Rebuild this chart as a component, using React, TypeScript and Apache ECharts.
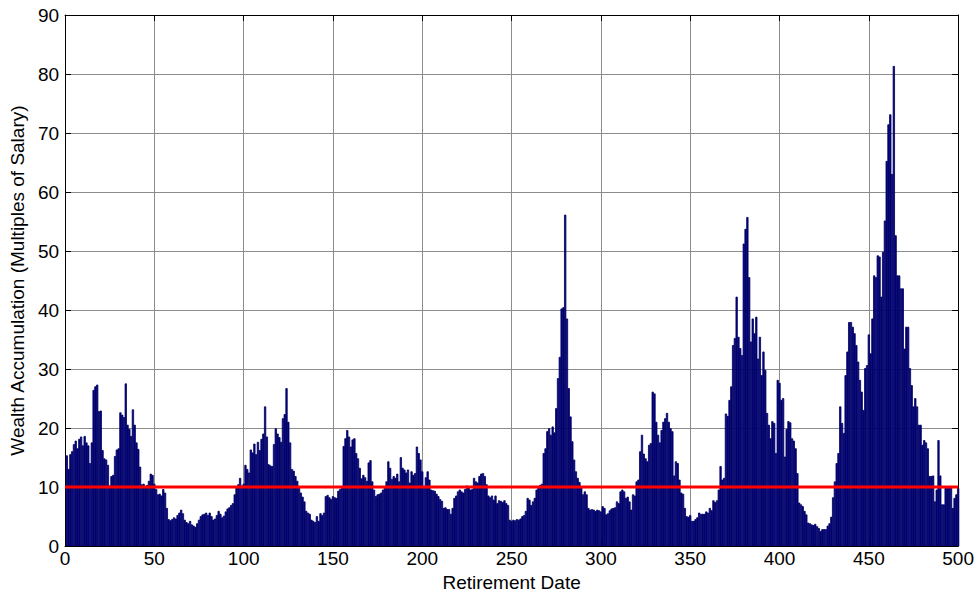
import React, { useEffect, useRef } from "react";
import * as echarts from "echarts";

// Wealth accumulation (multiples of salary) per retirement date, 500 dates
const wealth000 = [
  15.3, 13.0, 15.5, 16.0, 17.2, 17.8, 16.5, 18.1, 18.5, 17.0,
  18.6, 17.5, 17.0, 14.0, 17.5, 26.4, 27.0, 27.3, 22.8, 22.9,
  16.2, 14.8, 14.6, 13.7, 10.2, 11.8, 12.0, 15.2, 16.3, 16.5,
  22.6, 22.2, 21.8, 27.5, 20.5, 19.8, 18.6, 23.1, 20.5, 17.5,
  16.4, 13.4, 10.4, 10.5, 10.0, 10.3, 11.0, 12.2, 12.0, 10.5,
];
const wealth050 = [
  9.6, 8.7, 8.8, 8.5, 9.6, 9.0, 6.4, 4.5, 4.3, 4.5,
  4.8, 4.6, 5.2, 5.6, 6.1, 5.5, 4.4, 4.0, 3.8, 4.2,
  3.6, 3.4, 3.2, 3.8, 4.4, 5.0, 5.3, 5.4, 5.6, 5.2,
  5.6, 5.0, 4.4, 4.6, 5.2, 5.9, 5.4, 4.8, 5.1, 5.8,
  6.3, 6.5, 6.9, 7.2, 8.7, 10.0, 10.4, 11.5, 10.2, 10.5,
];
const wealth100 = [
  13.7, 13.0, 12.4, 16.3, 15.8, 17.3, 15.5, 17.6, 16.2, 18.1,
  19.0, 23.6, 18.5, 13.8, 13.6, 13.5, 17.2, 19.9, 19.0, 18.4,
  17.6, 21.6, 22.3, 26.7, 21.0, 17.5, 13.0, 12.7, 11.8, 11.0,
  10.0, 9.0, 8.3, 7.5, 5.9, 5.6, 5.4, 4.4, 4.2, 4.0,
  5.0, 4.2, 5.5, 5.2, 5.6, 8.4, 8.6, 8.2, 7.9, 8.4,
];
const wealth150 = [
  8.2, 8.1, 9.3, 9.6, 9.8, 16.9, 18.2, 19.6, 18.5, 16.8,
  18.0, 18.2, 15.7, 14.8, 13.2, 11.4, 12.0, 11.6, 11.0, 14.1,
  14.5, 10.9, 9.5, 8.4, 8.7, 8.8, 9.0, 9.5, 9.8, 10.9,
  14.3, 13.2, 11.3, 11.8, 11.5, 12.2, 10.9, 15.0, 13.2, 12.9,
  12.4, 12.9, 10.7, 12.6, 12.0, 12.3, 16.8, 15.7, 14.6, 12.6,
];
const wealth200 = [
  10.1, 11.6, 12.6, 11.2, 9.5, 9.4, 9.3, 8.8, 8.4, 7.9,
  7.6, 6.4, 6.5, 6.2, 6.2, 5.4, 6.4, 8.1, 8.5, 9.2,
  9.5, 9.2, 9.0, 9.6, 10.2, 9.9, 9.5, 9.6, 11.5, 10.9,
  10.7, 11.8, 12.2, 12.3, 11.8, 10.4, 8.5, 8.2, 8.5, 7.8,
  8.5, 7.2, 7.7, 7.6, 7.4, 7.7, 7.2, 6.9, 4.4, 4.2,
];
const wealth250 = [
  4.4, 4.3, 4.5, 4.4, 4.6, 5.0, 5.2, 5.9, 8.1, 7.8,
  6.9, 7.5, 8.1, 9.5, 9.8, 10.3, 10.5, 15.7, 16.5, 19.4,
  19.9, 18.8, 20.2, 19.2, 23.3, 28.4, 32.0, 40.2, 40.4, 56.1,
  38.5, 26.7, 21.9, 17.7, 14.6, 12.6, 11.5, 10.8, 10.0, 8.7,
  9.2, 8.7, 6.4, 6.1, 6.2, 6.1, 5.9, 6.1, 6.0, 5.8,
];
const wealth300 = [
  6.7, 6.4, 5.3, 5.5, 6.0, 6.3, 6.4, 6.5, 7.5, 7.2,
  9.2, 9.5, 9.2, 8.1, 8.3, 7.5, 6.1, 8.7, 8.5, 10.9,
  11.2, 16.0, 18.8, 15.6, 14.8, 14.3, 17.1, 17.4, 26.1, 25.8,
  21.0, 18.8, 17.5, 19.6, 21.0, 21.6, 22.5, 21.0, 19.9, 19.4,
  11.9, 14.3, 14.0, 11.2, 9.0, 8.8, 6.4, 5.0, 4.9, 5.2,
];
const wealth350 = [
  4.2, 4.2, 4.5, 4.8, 5.6, 5.4, 5.4, 5.4, 5.8, 5.6,
  6.4, 6.0, 7.7, 7.4, 7.7, 9.5, 13.5, 11.2, 11.5, 22.4,
  22.0, 24.7, 27.0, 34.0, 35.2, 42.2, 35.4, 33.5, 32.3, 51.2,
  53.7, 55.7, 45.5, 34.6, 38.5, 36.0, 38.8, 31.7, 35.4, 28.9,
  32.9, 29.8, 22.5, 20.5, 18.2, 21.1, 20.8, 15.7, 28.1, 27.6,
];
const wealth400 = [
  24.7, 25.0, 15.1, 19.8, 21.1, 20.9, 18.2, 17.8, 16.5, 12.3,
  7.3, 7.0, 6.7, 5.9, 5.3, 3.9, 3.8, 3.6, 3.5, 3.7,
  3.3, 3.0, 2.5, 2.8, 2.8, 2.8, 3.4, 3.8, 4.9, 8.2,
  10.9, 14.0, 15.7, 23.6, 20.8, 19.1, 28.9, 32.9, 37.9, 37.9,
  37.1, 36.0, 34.0, 31.2, 28.1, 26.1, 23.0, 30.1, 30.6, 35.8,
];
const wealth450 = [
  32.6, 38.5, 45.8, 45.5, 49.2, 49.0, 42.2, 49.8, 55.1, 65.2,
  71.4, 73.1, 63.0, 81.3, 52.6, 45.8, 45.8, 43.6, 43.6, 33.4,
  37.1, 37.1, 30.1, 27.2, 23.6, 25.0, 23.6, 20.5, 20.5, 17.1,
  17.9, 17.5, 16.5, 11.8, 11.8, 11.9, 7.5, 9.5, 17.9, 11.9,
  7.0, 7.0, 10.1, 9.8, 9.9, 10.1, 6.4, 8.1, 8.7, 9.8,
];

const wealth = [
  ...wealth000, ...wealth050, ...wealth100, ...wealth150, ...wealth200,
  ...wealth250, ...wealth300, ...wealth350, ...wealth400, ...wealth450,
];
const threshold = 10;
const xTicks = { min: 0, max: 500, interval: 50 };
const yTicks = { min: 0, max: 90, interval: 10 };

const FONT = "'Liberation Sans', Arial, sans-serif";
const FS = 19;

export default function App() {
  const ref = useRef<HTMLDivElement>(null);

  useEffect(() => {
    if (!ref.current) return;
    const chart = echarts.init(ref.current, null, { renderer: "svg" });
    const barData = wealth.map((v, i) => [i + 1, v]);

    const baseX = {
      type: "value",
      min: xTicks.min,
      max: xTicks.max,
      interval: xTicks.interval,
      axisLine: { show: true, onZero: false, lineStyle: { color: "#000", width: 1 } },
      axisTick: { show: true, inside: true, length: 6, lineStyle: { color: "#000" } },
    };
    const baseY = {
      type: "value",
      min: yTicks.min,
      max: yTicks.max,
      interval: yTicks.interval,
      axisLine: { show: true, onZero: false, lineStyle: { color: "#000", width: 1 } },
      axisTick: { show: true, inside: true, length: 6, lineStyle: { color: "#000" } },
    };

    chart.setOption({
      animation: false,
      backgroundColor: "#ffffff",
      grid: { left: 65, right: 18, top: 15, bottom: 49, containLabel: false },
      xAxis: [
        {
          ...baseX,
          position: "bottom",
          name: "Retirement Date",
          nameLocation: "middle",
          nameGap: 23,
          nameTextStyle: { fontSize: FS, color: "#000", fontFamily: FONT },
          axisLabel: { fontSize: FS, color: "#000", fontFamily: FONT, margin: 3 },
          splitLine: { show: true, lineStyle: { color: "#8c8c8c", width: 1 } },
        },
        {
          ...baseX,
          position: "top",
          axisLabel: { show: false },
          splitLine: { show: false },
        },
      ],
      yAxis: [
        {
          ...baseY,
          position: "left",
          name: "Wealth Accumulation (Multiples of Salary)",
          nameLocation: "middle",
          nameGap: 32,
          nameTextStyle: { fontSize: FS, color: "#000", fontFamily: FONT },
          axisLabel: { fontSize: FS, color: "#000", fontFamily: FONT, margin: 6 },
          splitLine: { show: true, lineStyle: { color: "#8c8c8c", width: 1 } },
        },
        {
          ...baseY,
          position: "right",
          axisLabel: { show: false },
          splitLine: { show: false },
        },
      ],
      series: [
        {
          type: "custom",
          xAxisIndex: 0,
          yAxisIndex: 0,
          clip: true,
          data: barData,
          encode: { x: 0, y: 1 },
          renderItem: (params: any, api: any) => {
            const x = api.value(0);
            const y = api.value(1);
            const tl = api.coord([x - 0.4, y]);
            const br = api.coord([x + 0.4, 0]);
            return {
              type: "rect",
              shape: { x: tl[0], y: tl[1], width: br[0] - tl[0], height: br[1] - tl[1] },
              style: { fill: "#000088", stroke: "#000060", lineWidth: 0.8 },
            };
          },
          z: 2,
        },
        {
          type: "line",
          xAxisIndex: 0,
          yAxisIndex: 0,
          data: [[xTicks.min, threshold], [xTicks.max, threshold]],
          symbol: "none",
          lineStyle: { color: "#ff0000", width: 3 },
          z: 5,
        },
      ],
    });
    return () => chart.dispose();
  }, []);

  return (
    <div
      ref={ref}
      style={{ position: "fixed", left: 0, top: 0, width: 977, height: 597, background: "#fff" }}
    />
  );
}
